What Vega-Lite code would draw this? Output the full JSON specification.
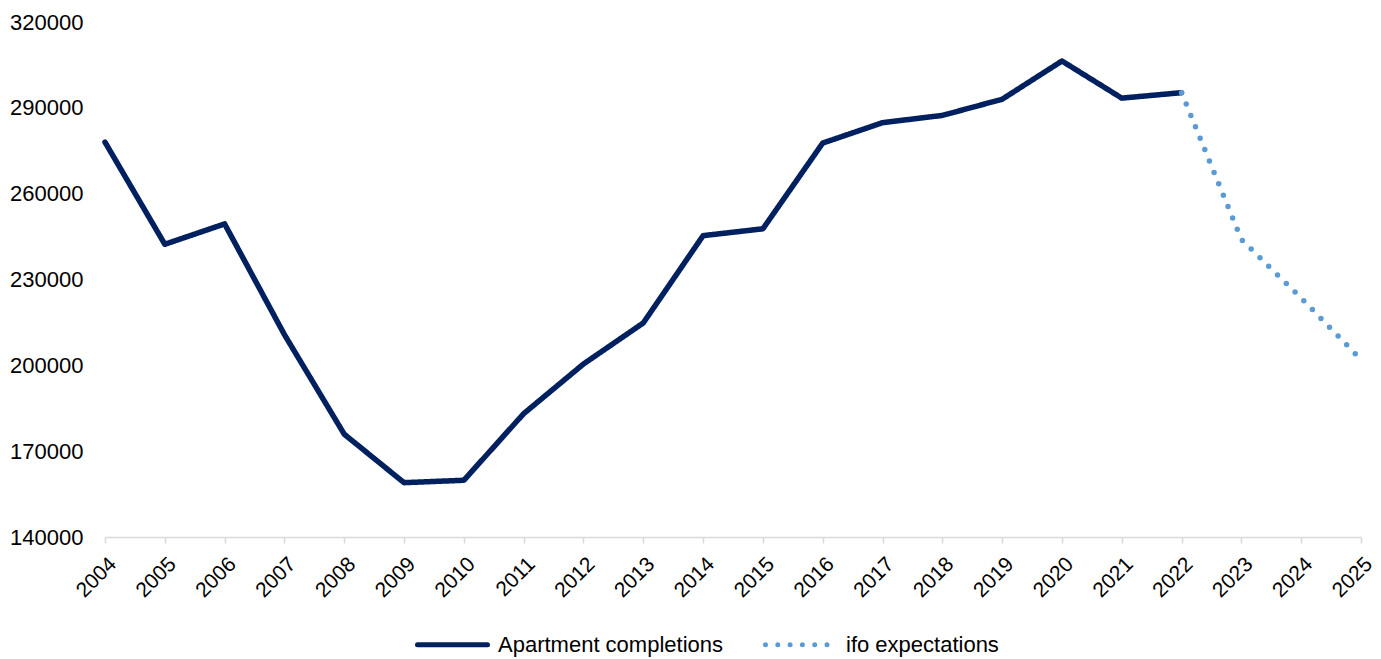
{
  "$schema": "https://vega.github.io/schema/vega-lite/v6.json",
  "width": 1256,
  "height": 515,
  "autosize": {"type": "none"},
  "padding": {"left": 105, "top": 22, "right": 20, "bottom": 122},
  "background": "white",
  "config": {"view": {"stroke": null}, "font": "Liberation Sans"},
  "data": {
    "values": [
      {"year": 2004, "value": 278008, "series": "Apartment completions"},
      {"year": 2005, "value": 242316, "series": "Apartment completions"},
      {"year": 2006, "value": 249436, "series": "Apartment completions"},
      {"year": 2007, "value": 210739, "series": "Apartment completions"},
      {"year": 2008, "value": 175927, "series": "Apartment completions"},
      {"year": 2009, "value": 158987, "series": "Apartment completions"},
      {"year": 2010, "value": 159832, "series": "Apartment completions"},
      {"year": 2011, "value": 183110, "series": "Apartment completions"},
      {"year": 2012, "value": 200466, "series": "Apartment completions"},
      {"year": 2013, "value": 214817, "series": "Apartment completions"},
      {"year": 2014, "value": 245325, "series": "Apartment completions"},
      {"year": 2015, "value": 247722, "series": "Apartment completions"},
      {"year": 2016, "value": 277691, "series": "Apartment completions"},
      {"year": 2017, "value": 284816, "series": "Apartment completions"},
      {"year": 2018, "value": 287352, "series": "Apartment completions"},
      {"year": 2019, "value": 293002, "series": "Apartment completions"},
      {"year": 2020, "value": 306376, "series": "Apartment completions"},
      {"year": 2021, "value": 293393, "series": "Apartment completions"},
      {"year": 2022, "value": 295300, "series": "Apartment completions"},
      {"year": 2022, "value": 295300, "series": "ifo expectations"},
      {"year": 2023, "value": 244000, "series": "ifo expectations"},
      {"year": 2024, "value": 223500, "series": "ifo expectations"},
      {"year": 2025, "value": 202000, "series": "ifo expectations"}
    ]
  },
  "mark": {"type": "line", "strokeCap": "round", "strokeJoin": "round", "strokeWidth": 5.5},
  "encoding": {
    "x": {
      "field": "year",
      "type": "quantitative",
      "scale": {"domain": [2004, 2025], "nice": false, "zero": false},
      "axis": {
        "title": null,
        "values": [2004, 2005, 2006, 2007, 2008, 2009, 2010, 2011, 2012, 2013, 2014, 2015, 2016, 2017, 2018, 2019, 2020, 2021, 2022, 2023, 2024, 2025],
        "format": "d",
        "labelAngle": -45,
        "labelFontSize": 21,
        "labelColor": "#000000",
        "domainColor": "#d9d9d9",
        "domainWidth": 1.5,
        "tickColor": "#d9d9d9",
        "tickWidth": 1.5,
        "tickSize": 6,
        "grid": false,
        "labelPadding": 10
      }
    },
    "y": {
      "field": "value",
      "type": "quantitative",
      "scale": {"domain": [140000, 320000], "nice": false, "zero": false},
      "axis": {
        "title": null,
        "values": [140000, 170000, 200000, 230000, 260000, 290000, 320000],
        "format": "d",
        "labelFontSize": 22,
        "labelColor": "#000000",
        "labelPadding": 22,
        "domain": false,
        "ticks": false,
        "grid": false
      }
    },
    "color": {
      "field": "series",
      "type": "nominal",
      "scale": {"domain": ["Apartment completions", "ifo expectations"], "range": ["#002060", "#5B9BD5"]},
      "legend": {
        "title": null,
        "orient": "none",
        "legendX": 310,
        "legendY": 585,
        "direction": "horizontal",
        "symbolType": "stroke",
        "symbolSize": 4900,
        "symbolStrokeWidth": 5,
        "labelFontSize": 22,
        "labelLimit": 400,
        "labelColor": "#000000",
        "labelOffset": 8,
        "columnPadding": 32,
        "encode": {"symbols": {"update": {"strokeCap": {"value": "round"}}}}
      }
    },
    "strokeDash": {
      "field": "series",
      "type": "nominal",
      "scale": {"domain": ["Apartment completions", "ifo expectations"], "range": [[1, 0], [0, 12.3]]},
      "legend": null
    }
  }
}
